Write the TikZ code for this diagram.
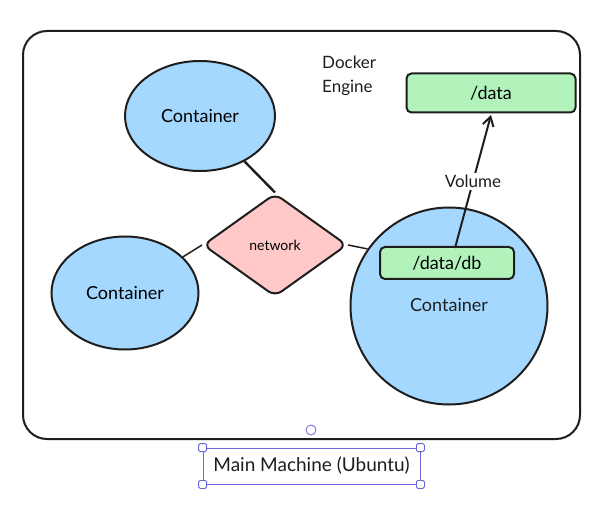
\documentclass[tikz,border=0pt]{standalone}
\usepackage{fontspec}
\setmainfont{Lato}
\usetikzlibrary{shapes.geometric,arrows.meta}
\definecolor{ink}{HTML}{1E1E1E}
\definecolor{cblue}{HTML}{A5D8FF}
\definecolor{cgreen}{HTML}{B2F2BB}
\definecolor{cpink}{HTML}{FFC9C9}
\definecolor{sel}{HTML}{6965DB}
\tikzset{
  cont/.style={ellipse, draw=ink, fill=cblue, line width=2pt, inner sep=0pt, font=\fontsize{18}{20}\selectfont},
  vol/.style={rectangle, rounded corners=5pt, draw=ink, fill=cgreen, line width=2pt, inner sep=0pt, font=\fontsize{18}{20}\selectfont},
  link/.style={draw=ink, line width=1.5pt},
  handle/.style={rectangle, draw=sel, fill=white, line width=0.8pt, minimum size=8pt, inner sep=0pt, rounded corners=1.5pt},
}
\begin{document}
\begin{tikzpicture}[x=1pt,y=-1pt]
\useasboundingbox[fill=white] (0,0) rectangle (608,505);
% outer machine box
\draw[ink, line width=2pt, rounded corners=24pt] (23,31) rectangle (580,439);
\node[anchor=north west, align=left, inner sep=0pt, font=\fontsize{17}{24}\selectfont, text=ink] (eng) at (322,56) {Docker\\Engine};
% containers
\node[cont, minimum width=150pt, minimum height=110pt] (c1) at (200,116) {Container};
\node[cont, minimum width=147pt, minimum height=113pt] (c2) at (125,293) {Container};
\node[cont, circle, minimum size=197pt] (c3) at (449,306) {};
\node[font=\fontsize{18}{20}\selectfont, text=ink] (c3t) at (449,305) {Container};
% network
\node[diamond, draw=ink, fill=cpink, line width=2pt, rounded corners=8pt, minimum width=144pt, minimum height=103pt, inner sep=0pt, font=\fontsize{14}{16}\selectfont] (net) at (275,245) {network};
% volumes
\node[vol, minimum width=134pt, minimum height=32pt] (db) at (447,263) {/data/db};
\node[vol, minimum width=169pt, minimum height=39pt] (data) at (491,93) {/data};
% links
\draw[link, line width=2.4pt] (c1) -- (net.north);
\draw[link] (c2) -- (net.west);
\draw[link] (net.east) -- (c3.145);
\coordinate (vs) at (455,248);
\coordinate (vt) at (491,115);
\draw[link, line width=2pt, -{Straight Barb[length=9pt,width=11pt,line width=2pt]}] (vs) -- node[fill=white, inner sep=2pt, font=\fontsize{17}{19}\selectfont, text=ink] (vlab) {Volume} (vt);
% selection
\node[draw=sel, line width=0.8pt, circle, minimum size=10pt, inner sep=0pt] (rot) at (311,430) {};
\node[draw=sel, line width=0.8pt, minimum width=217pt, minimum height=36pt, inner sep=0pt, font=\fontsize{19}{21}\selectfont, text=ink] (mm) at (311.5,466) {Main Machine (Ubuntu)};
\node[handle] (h1) at (mm.north west) {};
\node[handle] (h2) at (mm.north east) {};
\node[handle] (h3) at (mm.south west) {};
\node[handle] (h4) at (mm.south east) {};
\end{tikzpicture}
\end{document}
